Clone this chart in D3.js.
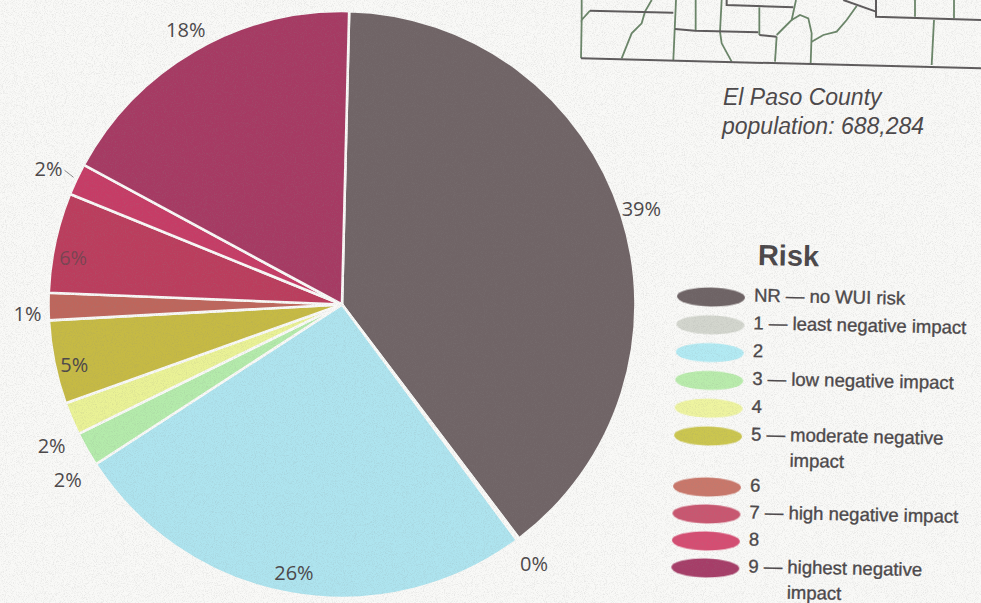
<!DOCTYPE html>
<html>
<head>
<meta charset="utf-8">
<script src="https://cdn.jsdelivr.net/npm/d3@7/dist/d3.min.js"></script>
<style>
  html, body { margin: 0; padding: 0; background: #f8f8f6; }
  svg { display: block; }
  text { fill: #4b4749; }
</style>
</head>
<body>
<div id="chart"></div>
<script>
// pie data
var riskKeys = ['NR', '1', '2', '3', '4', '5', '6', '7', '8', '9']
var riskShares = [39.3, 0.15, 26, 1.9, 1.8, 4.6, 1.5, 5.5, 1.75, 17.5]
var shareLabels = ['39%', '0%', '26%', '2%', '2%', '5%', '1%', '6%', '2%', '18%']
var riskColors = ['#706466', '#ccd0c8', '#aee4ef', '#b4ebab', '#eaf296', '#c6ba44', '#be665c', '#bb3d5d', '#c63c66', '#a63a63']

// legend
var legendLines = [
  ['NR — no WUI risk'],
  ['1 — least negative impact'],
  ['2'],
  ['3 — low negative impact'],
  ['4'],
  ['5 — moderate negative', 'impact'],
  ['6'],
  ['7 — high negative impact'],
  ['8'],
  ['9 — highest negative', 'impact']
]
var legendColors = ['#6e6365', '#d3d6ce', '#b2eaf3', '#b9ecac', '#eef4a0', '#cbc650', '#c9776a', '#c9566f', '#d54e72', '#a63d68']

var caption = ['El Paso County', 'population: 688,284']

// corner of the county map
var countyBorders = [
  [[35, 0], [35, 60], [60, 32]], [[35, 60], [33, 175]],
  [[245, 0], [225, 35], [215, 70], [185, 100], [175, 125], [155, 175]],
  [[318, 0], [310, 180]], [[377, 0], [377, 92]],
  [[455, 0], [450, 95], [455, 130], [485, 185]],
  [[678, 0], [665, 60], [620, 105]], [[568, 22], [568, 105]], [[620, 110], [615, 185]],
  [[665, 60], [690, 45], [715, 55], [725, 100], [722, 190]],
  [[725, 125], [760, 105], [800, 95], [830, 60], [860, 18]],
  [[1035, 0], [1035, 50]], [[1152, 0], [1152, 55]], [[1092, 60], [1085, 195]]
]
var outerBorders = [
  [[33, 175], [1233, 205]], [[60, 32], [310, 38]], [[315, 87], [375, 92], [565, 97]],
  [[470, 0], [470, 15], [670, 22]], [[568, 105], [620, 110]],
  [[820, 0], [918, 35]], [[918, 0], [918, 50], [1233, 60]]
]

var width = 981
var height = 603

var svg = d3.select('#chart').append('svg').attr('width', width).attr('height', height)

// paper grain of the scan
var defs = svg.append('defs')
var grain = defs.append('filter').attr('id', 'grain').attr('x', 0).attr('y', 0).attr('width', '100%').attr('height', '100%')
grain.append('feTurbulence').attr('type', 'fractalNoise').attr('baseFrequency', 1.1).attr('numOctaves', 2).attr('seed', 4)
grain.append('feColorMatrix').attr('type', 'matrix')
  .attr('values', '0 0 0 0 0.25  0 0 0 0 0.25  0 0 0 0 0.25  0 0 0 -3.2 1.75')
defs.append('filter').attr('id', 'soft').append('feGaussianBlur').attr('stdDeviation', 0.7)

svg.append('rect').attr('width', width).attr('height', height).attr('fill', '#f9f9f7')

// map
var mapX = d3.scaleLinear().domain([0, 1233]).range([570, 981])
var mapY = d3.scaleLinear().domain([0, 150]).range([0, 50])
var mapLine = d3.line().x(function(d) { return mapX(d[0]) }).y(function(d) { return mapY(d[1]) })
var map = svg.append('g').attr('fill', 'none')
map.selectAll('path.county').data(countyBorders).enter().append('path').attr('class', 'county')
  .attr('d', mapLine).attr('stroke', '#6a8568').attr('stroke-width', 1.8)
map.selectAll('path.outer').data(outerBorders).enter().append('path').attr('class', 'outer')
  .attr('d', mapLine).attr('stroke', '#5d5a5b').attr('stroke-width', 2)

svg.selectAll('text.caption').data(caption).enter().append('text').attr('class', 'caption')
  .attr('x', function(d, i) { return 723 - i })
  .attr('y', function(d, i) { return 105 + i * 29 })
  .attr('font-family', '"Liberation Sans", sans-serif')
  .attr('font-style', 'italic')
  .attr('font-size', 23)
  .attr('fill', '#5f5b5d')
  .text(function(d) { return d })

// pie
var cx = 342
var cy = 304.5
var radius = 293.5
var startAngle = 1.4 * Math.PI / 180

var pie = d3.pie().sort(null).startAngle(startAngle).endAngle(startAngle + 2 * Math.PI)
var arcs = pie(riskShares)
var arc = d3.arc().innerRadius(0).outerRadius(radius)
var rimArc = d3.arc().innerRadius(radius).outerRadius(radius)

var g = svg.append('g').attr('transform', `translate(${cx}, ${cy})`)

g.selectAll('path').data(arcs).enter().append('path')
  .attr('d', arc)
  .attr('fill', function(d, i) { return riskColors[i] })
  .attr('stroke', '#f9f9f7')
  .attr('stroke-width', 2.6)
  .attr('stroke-linejoin', 'round')

// labels were moved by hand in the original, so each one has its own offset from the rim
var labelShift = [[20, -6], [16, 24], [4, -21], [-19, 31], [-20, 27], [20, 2], [-21, 7], [18, 15], [-28, -11], [-9, -21]]

// leader of the 2% slice at index 8
var rim8 = rimArc.centroid(arcs[8])
g.append('line')
  .attr('x1', rim8[0] - 3).attr('y1', rim8[1] - 2)
  .attr('x2', rim8[0] - 12).attr('y2', rim8[1] - 9)
  .attr('stroke', '#8a8a8a')
  .attr('stroke-width', 1)

g.selectAll('text').data(arcs).enter().append('text')
  .attr('transform', function(d, i) {
    var c = rimArc.centroid(d)
    return `translate(${c[0] + labelShift[i][0]}, ${c[1] + labelShift[i][1]})`
  })
  .attr('text-anchor', 'middle')
  .attr('dy', '0.36em')
  .attr('font-family', '"Open Sans", sans-serif')
  .attr('font-size', 20)
  .attr('fill-opacity', function(d, i) { return i == 7 ? 0.6 : 1 })
  .text(function(d, i) { return shareLabels[i] })

// legend, the whole block sits a little crooked on the scan
var legend = svg.append('g').attr('transform', 'rotate(1.2 710 297)')
// row spacing is not even in the original
var rowY = d3.scaleLinear().domain([0, 5, 7, 10]).range([295, 434, 485, 566])

var rowIndex = []
legendLines.reduce(function(row, lines) {
  rowIndex.push(row)
  return row + lines.length
}, 0)

legend.append('text')
  .attr('x', 757)
  .attr('y', 264)
  .attr('font-family', '"Liberation Sans", sans-serif')
  .attr('font-weight', 'bold')
  .attr('font-size', 29)
  .text('Risk')

var rows = legend.selectAll('g.row').data(riskKeys).enter().append('g').attr('class', 'row')
  .attr('transform', function(d, i) { return `translate(0, ${rowY(rowIndex[i])})` })

rows.append('ellipse')
  .attr('cx', 711)
  .attr('cy', 2)
  .attr('rx', 34)
  .attr('ry', 9.5)
  .attr('fill', function(d, i) { return legendColors[i] })
  .attr('filter', 'url(#soft)')

rows.each(function(d, i) {
  d3.select(this).selectAll('text').data(legendLines[i]).enter().append('text')
    .attr('x', function(t, j) { return j == 0 ? 754 : 793 })
    .attr('y', function(t, j) { return j * 25.5 })
    .attr('dy', '0.3em')
    .attr('font-family', '"Liberation Sans", sans-serif')
    .attr('font-size', 18.5)
    .attr('stroke', '#4b4749')
    .attr('stroke-width', 0.35)
    .text(function(t) { return t })
})

svg.append('rect').attr('width', width).attr('height', height).attr('filter', 'url(#grain)').attr('opacity', 0.14)
</script>
</body>
</html>
